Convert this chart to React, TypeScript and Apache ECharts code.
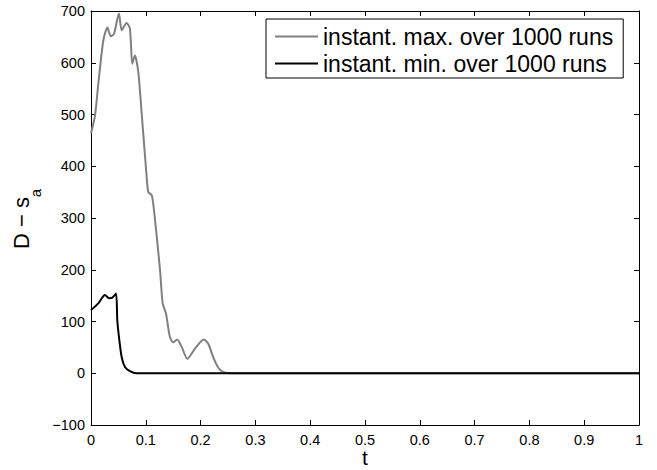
import React, { useEffect, useRef } from "react";
import * as echarts from "echarts";

const maxT = [0, 0.0073, 0.0134, 0.0225, 0.03, 0.036, 0.042, 0.051, 0.056, 0.065, 0.071, 0.0754, 0.08, 0.0863, 0.0925, 0.1016, 0.1046, 0.1108, 0.115, 0.126, 0.1308, 0.1369, 0.144, 0.15, 0.157, 0.1655, 0.1758, 0.19, 0.206, 0.214, 0.223, 0.232, 0.241, 0.255, 0.3, 0.5, 0.8, 1];
const maxV = [464, 498, 560, 643, 668, 651, 656, 695, 663, 677, 666, 598, 614, 582, 502, 379, 350, 344, 315, 199, 135, 115, 70, 60, 65, 51, 28, 48, 65, 57, 31, 11, 2.5, 0, 0, 0, 0, 0];
const minT = [0, 0.0134, 0.0255, 0.033, 0.039, 0.0456, 0.048, 0.0517, 0.056, 0.062, 0.071, 0.083, 0.1, 0.3, 0.6, 1];
const minV = [122, 135, 151, 145, 146, 154, 102, 64, 31, 12, 4, 0, 0, 0, 0, 0];

const xTicks = { min: 0, max: 1, interval: 0.1 };
const yTicks = { min: -100, max: 700, interval: 100 };
const seriesNames = ["instant. max. over 1000 runs", "instant. min. over 1000 runs"];
const yNameMain = "D \u2212 s";
const yNameSub = "a";
const xName = "t";

const FONT = "'Liberation Sans', Arial, Helvetica, sans-serif";

export default function App() {
  const ref = useRef<HTMLDivElement>(null);
  useEffect(() => {
    if (!ref.current) return;
    const chart = echarts.init(ref.current, null, { renderer: "svg" });
    const axisLine = { show: true, onZero: false, lineStyle: { color: "#000", width: 1 } };
    const axisTick = { show: true, inside: true, length: 5, lineStyle: { color: "#000", width: 1 } };
    chart.setOption({
      animation: false,
      backgroundColor: "#fff",
      grid: { left: 91, right: 18, top: 11, bottom: 45, containLabel: false, outerBoundsMode: "none" },
      legend: {
        data: seriesNames,
        orient: "vertical",
        left: 266,
        top: 19,
        backgroundColor: "#fff",
        borderColor: "#000",
        borderWidth: 1,
        borderRadius: 0,
        padding: [6, 10, 3, 9],
        icon: "rect",
        itemWidth: 43,
        itemHeight: 2,
        itemGap: 4,
        textStyle: { fontSize: 23, color: "#000", fontFamily: FONT },
      },
      xAxis: [
        {
          type: "value",
          ...xTicks,
          position: "bottom",
          axisLine,
          axisTick,
          splitLine: { show: false },
          axisLabel: { fontSize: 14.5, color: "#000", fontFamily: FONT, margin: 7 },
        },
        {
          type: "value",
          ...xTicks,
          position: "top",
          axisLine,
          axisTick,
          splitLine: { show: false },
          axisLabel: { show: false },
        },
      ],
      yAxis: [
        {
          type: "value",
          ...yTicks,
          position: "left",
          axisLine,
          axisTick,
          splitLine: { show: false },
          axisLabel: {
            fontSize: 14.5,
            color: "#000",
            fontFamily: FONT,
            margin: 6,
            formatter: (v: number) => String(v).replace("-", "\u2212"),
          },
        },
        {
          type: "value",
          ...yTicks,
          position: "right",
          axisLine,
          axisTick,
          splitLine: { show: false },
          axisLabel: { show: false },
        },
      ],
      graphic: [
        {
          type: "text",
          x: 365,
          y: 468,
          style: {
            text: xName,
            align: "center",
            verticalAlign: "bottom",
            fill: "#000",
            fontSize: 21,
            fontFamily: FONT,
          },
        },
        {
          type: "text",
          x: 21,
          y: 223,
          rotation: Math.PI / 2,
          style: {
            text: yNameMain,
            align: "center",
            verticalAlign: "middle",
            fill: "#000",
            fontSize: 22,
            fontFamily: FONT,
          },
        },
        {
          type: "text",
          x: 35,
          y: 193,
          rotation: Math.PI / 2,
          style: {
            text: yNameSub,
            align: "center",
            verticalAlign: "middle",
            fill: "#000",
            fontSize: 15,
            fontFamily: FONT,
          },
        },
      ],
      series: [
        {
          name: seriesNames[0],
          type: "line",
          data: maxT.map((t, i) => [t, maxV[i]]),
          symbol: "none",
          smooth: 0.25,
          lineStyle: { color: "#808080", width: 2 },
          itemStyle: { color: "#808080" },
          z: 2,
        },
        {
          name: seriesNames[1],
          type: "line",
          data: minT.map((t, i) => [t, minV[i]]),
          symbol: "none",
          smooth: 0.25,
          lineStyle: { color: "#000", width: 2 },
          itemStyle: { color: "#000" },
          z: 3,
        },
      ],
    });
    return () => chart.dispose();
  }, []);
  return <div ref={ref} style={{ width: 657, height: 470, position: "absolute", left: 0, top: 0 }} />;
}
